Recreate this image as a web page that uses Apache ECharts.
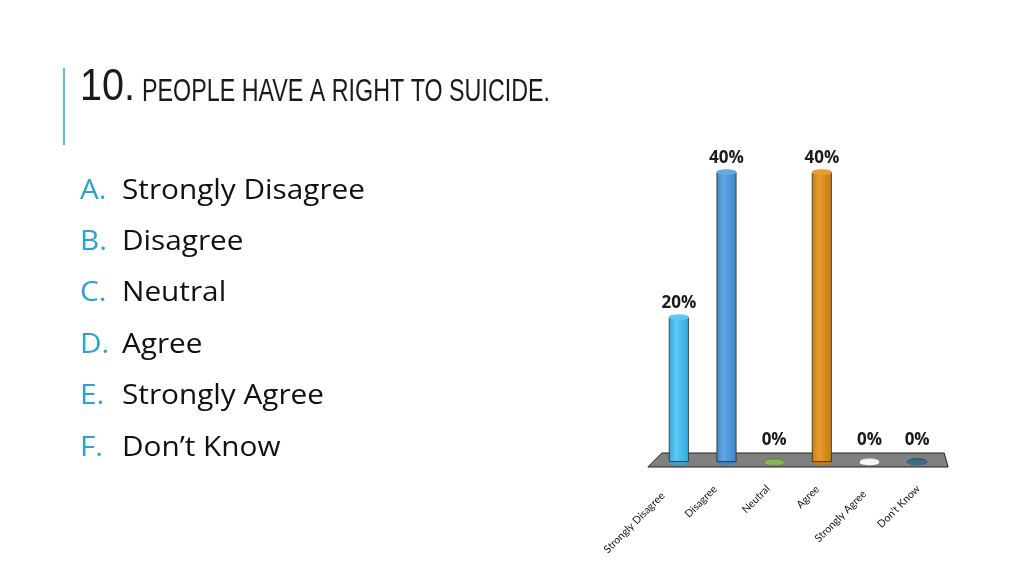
<!doctype html>
<html>
	<head>
		<meta charset="utf-8">
		<title>10. People have a right to suicide.</title>
		<script src="https://cdn.jsdelivr.net/npm/echarts@6/dist/echarts.min.js"></script>
		<style>
			html, body { margin: 0; padding: 0; background: #fff; }
			#chart { width: 1024px; height: 576px; }
		</style>
	</head>
	<body>
		<div id="chart"></div>
		<script type="text/javascript">
			// 数据
			var categories = ['Strongly Disagree', 'Disagree', 'Neutral', 'Agree', 'Strongly Agree', 'Don\u2019t Know'];
			var letters = ['A.', 'B.', 'C.', 'D.', 'E.', 'F.'];
			var percents = [20, 40, 0, 40, 0, 0];
			var barColors = ['#2aa9e0', '#3a86cb', '#5b8a2b', '#c67c0d', '#dedede', '#1f4b62'];
			var barLight = ['#5fc8f2', '#62a6e2', '#86b552', '#e79d2e', '#f6f6f6', '#3c6d86'];
			// 斜标签微调 [右侧padding, 上方padding]
			var labelNudge = [[24, 3], [16, 0], [12, 7], [11, 10], [15, 16], [7, 17]];

			var chart = echarts.init(document.getElementById('chart'));

			// 量一下文字宽度，用来调整横向比例
			var mctx = document.createElement('canvas').getContext('2d');
			function textW(font, s) {
				mctx.font = font;
				return mctx.measureText(s).width;
			}

			function cylFill(i) {
				return new echarts.graphic.LinearGradient(0, 0, 1, 0, [
					{ offset: 0, color: barColors[i] },
					{ offset: 0.35, color: barLight[i] },
					{ offset: 1, color: barColors[i] }
				]);
			}

			var barData = percents.map(function (v, i) {
				return {
					value: v,
					itemStyle: { color: cylFill(i) },
					label: { distance: v === 0 ? 13 : 5 }
				};
			});
			var capData = percents.map(function (v, i) {
				return { value: v, itemStyle: { color: barLight[i] } };
			});
			var baseData = percents.map(function (v, i) {
				return { value: v, itemStyle: { color: barColors[i] } };
			});

			var rich = {};
			labelNudge.forEach(function (n, i) {
				rich['p' + i] = {
					padding: [n[1], n[0], 0, 0],
					fontSize: 10.5, color: '#111',
					fontFamily: 'Lato, "Liberation Sans", sans-serif'
				};
			});

			// 左侧选项列表
			var listFont = '27px "Open Sans", Lato, sans-serif';
			var listScale = 243 / textW(listFont, categories[0]);
			var listGraphics = [];
			categories.forEach(function (c, i) {
				listGraphics.push({
					type: 'text', x: 80, y: 191 + i * 51.4, z: 10, scaleX: listScale,
					style: { text: letters[i], fill: '#2ba3d9', font: listFont, verticalAlign: 'middle' }
				});
				listGraphics.push({
					type: 'text', x: 122, y: 191 + i * 51.4, z: 10, scaleX: listScale,
					style: { text: c, fill: '#111', font: listFont, verticalAlign: 'middle' }
				});
			});

			// 标题
			var tFontA = '44px "Liberation Sans", Arimo, sans-serif';
			var tFontB = '31px "Liberation Sans", Arimo, sans-serif';
			var tA = '10.';
			var tB = 'PEOPLE HAVE A RIGHT TO SUICIDE.';
			var sA = 55 / textW(tFontA, tA);
			var sB = 408 / textW(tFontB, tB);
			var titleGraphics = [
				{
					type: 'text', x: 80, y: 88, scaleX: sA, z: 10,
					style: { text: tA, fill: '#1a1a1a', font: tFontA, verticalAlign: 'middle' }
				},
				{
					type: 'text', x: 142, y: 92, scaleX: sB, z: 10,
					style: { text: tB, fill: '#1a1a1a', font: tFontB, verticalAlign: 'middle' }
				}
			];

			chart.setOption({
				animation: false,
				backgroundColor: '#ffffff',
				grid: { left: 655, right: 83, top: 172, bottom: 114 },
				xAxis: {
					type: 'category',
					data: categories,
					axisLine: { show: false },
					axisTick: { show: false },
					axisLabel: {
						rotate: 45, margin: 14, interval: 0,
						formatter: function (v, i) { return '{p' + i + '|' + v + '}'; },
						rich: rich
					}
				},
				yAxis: { type: 'value', min: 0, max: 40, show: false, splitLine: { show: false } },
				series: [
					{
						type: 'bar',
						data: barData,
						barWidth: 20,
						z: 3,
						itemStyle: { borderColor: '#2a2a2a', borderWidth: 0.8 },
						label: {
							show: true, position: 'top',
							formatter: '{c}%',
							color: '#1a1a1a', fontSize: 17, fontWeight: 'bold',
							fontFamily: '"Open Sans", Lato, sans-serif'
						}
					},
					{
						type: 'pictorialBar',
						data: baseData,
						symbol: 'circle',
						symbolSize: [20, 7],
						symbolPosition: 'start',
						symbolOffset: [0, '50%'],
						z: 2,
						itemStyle: { borderColor: '#2a2a2a', borderWidth: 0.8 }
					},
					{
						type: 'pictorialBar',
						data: capData,
						symbol: 'circle',
						symbolSize: [20, 6],
						symbolPosition: 'end',
						symbolOffset: [0, '-50%'],
						z: 4,
						itemStyle: { borderColor: '#2a2a2a', borderWidth: 0.8 }
					}
				]
			});

			// 地板和标题竖线
			var p0 = chart.convertToPixel({ xAxisIndex: 0, yAxisIndex: 0 }, [0, 0]);
			var p5 = chart.convertToPixel({ xAxisIndex: 0, yAxisIndex: 0 }, [categories.length - 1, 0]);
			var floorGraphic = {
				type: 'polygon', z: 1, silent: true,
				shape: {
					points: [
						[p0[0] - 17, p0[1] - 9],
						[p5[0] + 27, p0[1] - 9],
						[p5[0] + 31, p0[1] + 5],
						[p0[0] - 31, p0[1] + 5]
					]
				},
				style: { fill: '#808080', stroke: '#222', lineWidth: 1 }
			};
			var accent = {
				type: 'line', z: 10,
				shape: { x1: 64, y1: 68, x2: 64, y2: 145 },
				style: { stroke: '#58bcdc', lineWidth: 2 }
			};
			chart.setOption({ graphic: [floorGraphic, accent].concat(titleGraphics, listGraphics) });
		</script>
	</body>
</html>
